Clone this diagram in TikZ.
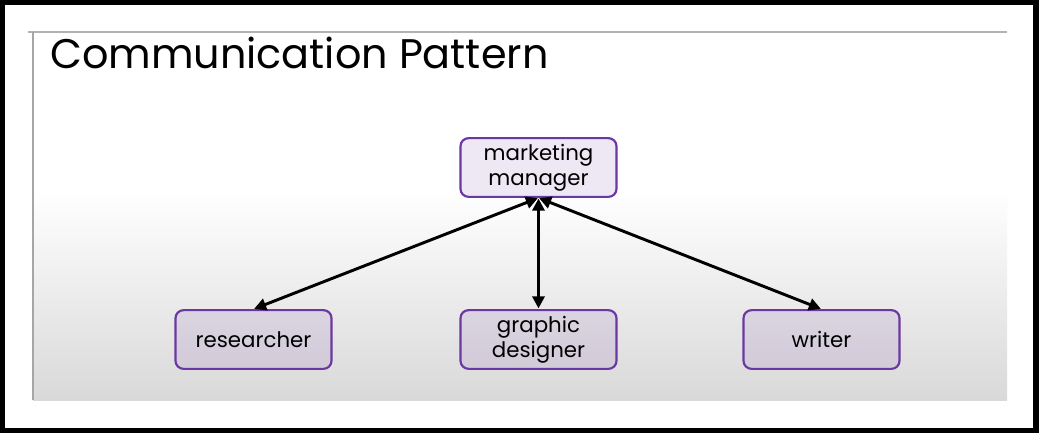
\documentclass[tikz,border=0pt]{standalone}
\usepackage{fontspec}
\setmainfont{Poppins}
\usetikzlibrary{arrows.meta}

\definecolor{rolepurple}{RGB}{107,55,160}
\definecolor{rolefill}{RGB}{120,60,170}

\begin{document}
\begin{tikzpicture}[x=0.75pt, y=-0.75pt,
    role/.style={rectangle, draw=rolepurple, line width=1.6pt, fill=rolefill, fill opacity=0.12, draw opacity=1, text opacity=1, minimum width=117pt, minimum height=44pt, align=center, rounded corners=6pt, font=\fontsize{16}{18.5}\selectfont},
    link/.style={{Triangle[length=9pt,width=9pt]}-{Triangle[length=9pt,width=9pt]}, line width=2.2pt, black, shorten <=0.5pt, shorten >=0.5pt}
]
\useasboundingbox (0,0) rectangle (1039,433);

% Frame and slide
\fill[black] (0,0) rectangle (1039,433);
\fill[white] (5,5) rectangle (1033,428);
\shade[top color=white, bottom color=white!85!black] (33,190) rectangle (1007,400);
\draw[gray!60, line width=1pt] (28,32) -- (1007,32);
\draw[gray!70, line width=0.8pt] (33,32) -- (33,400);

% Title
\node[anchor=base west, inner sep=0pt, font=\fontsize{31}{37}\selectfont] (title) at (50,68) {Communication Pattern};

% Manager
\node[role] (mgr) at (538.5,167.5) {marketing\\manager};

% Team
\node[role] (res) at (253.5,339.5) {researcher};
\node[role] (gfx) at (538.5,339.5) {graphic\\designer};
\node[role] (wri) at (821.5,339.5) {writer};

% Arrows
\draw[link] (mgr.south) -- (res.north);
\draw[link] (mgr.south) -- (gfx.north);
\draw[link] (mgr.south) -- (wri.north);

\end{tikzpicture}
\end{document}
